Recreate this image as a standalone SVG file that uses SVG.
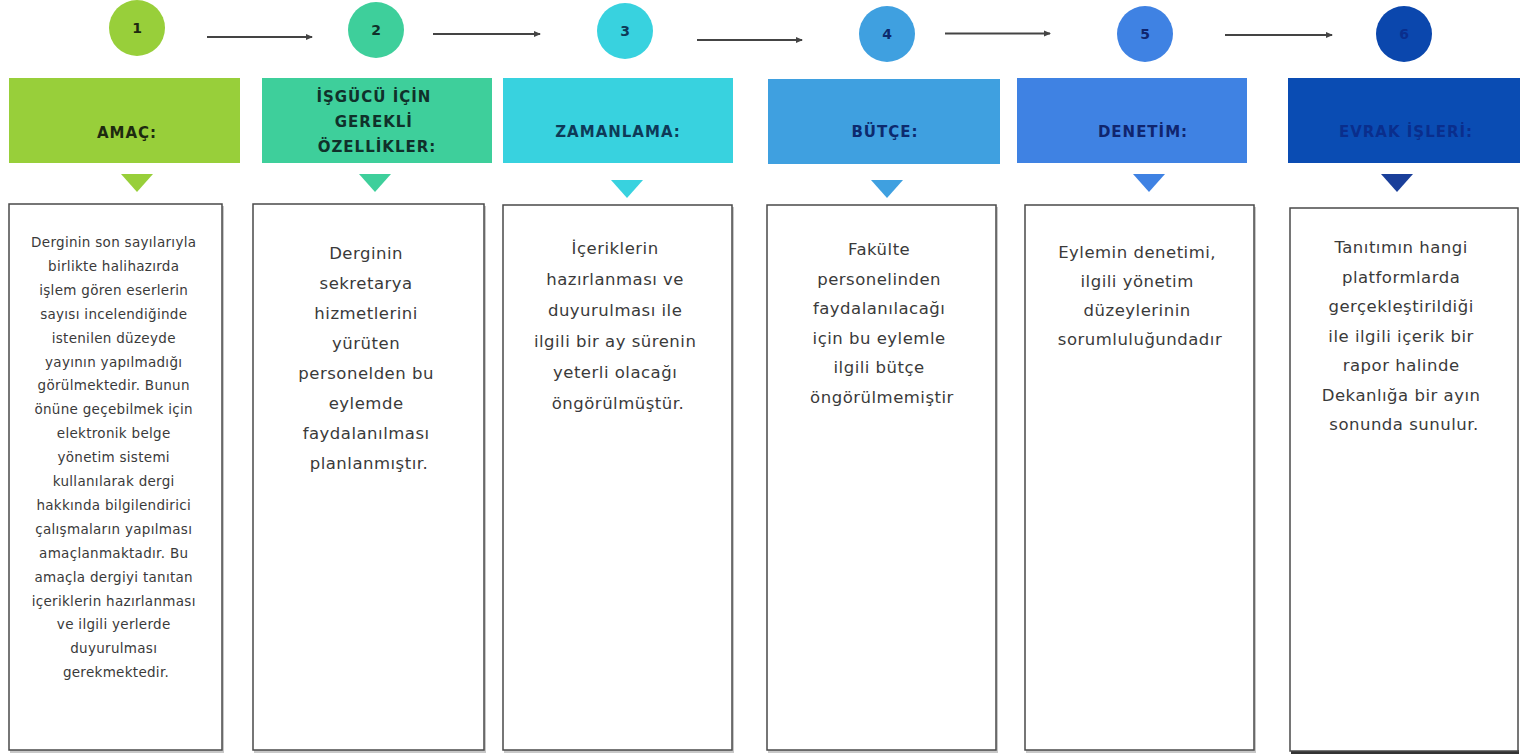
<svg xmlns="http://www.w3.org/2000/svg" width="1522" height="755" viewBox="0 0 1522 755">
<style>
.num{font-family:"DejaVu Sans",sans-serif;font-weight:bold;font-size:14px;text-anchor:middle}
.hd{font-family:"DejaVu Sans",sans-serif;font-weight:bold;font-size:15px;letter-spacing:1px;text-anchor:middle}
.body{font-family:"DejaVu Sans",sans-serif;font-size:16.5px;letter-spacing:0.5px;fill:#3a3a3a;text-anchor:middle}
.small{font-family:"DejaVu Sans",sans-serif;font-size:13.5px;letter-spacing:0.3px;fill:#3a3a3a;text-anchor:middle}
.box{fill:#fff;stroke:#4a4a4a;stroke-width:1.5}
.shadow{fill:#c8c8c8}
.conn{stroke:#444;stroke-width:2;fill:none;marker-end:url(#ah)}
</style>
<defs>
<marker id="ah" markerWidth="8" markerHeight="8" refX="6" refY="4" orient="auto" markerUnits="userSpaceOnUse">
<path d="M0,1 L7,4 L0,7 Z" fill="#444"/>
</marker>
</defs>
<rect width="1522" height="755" fill="#fff"/>

<g id="connectors">
<line class="conn" x1="207" y1="37" x2="312" y2="37"/>
<line class="conn" x1="433" y1="34" x2="540" y2="34"/>
<line class="conn" x1="697" y1="40" x2="802" y2="40"/>
<line class="conn" x1="945" y1="33.5" x2="1050" y2="33.5"/>
<line class="conn" x1="1225" y1="35" x2="1332" y2="35"/>
</g>

<g id="step1">
<circle cx="137" cy="28" r="28" fill="#98cf3a"/>
<text class="num" x="137" y="33" fill="#1e2a10">1</text>
<rect x="9" y="78" width="231" height="85" fill="#98cf3a"/>
<text class="hd" x="127" y="138" fill="#1e2a10">AMAÇ:</text>
<polygon points="121,174 153,174 137,192" fill="#98cf3a"/>
<rect class="shadow" x="10" y="206" width="214" height="547"/>
<rect class="box" x="9" y="204" width="213" height="546"/>
<text class="small">
<tspan x="116" y="247">Derginin son sayılarıyla</tspan>
<tspan x="116" y="270.9">birlikte halihazırda</tspan>
<tspan x="116" y="294.8">işlem gören eserlerin</tspan>
<tspan x="116" y="318.7">sayısı incelendiğinde</tspan>
<tspan x="116" y="342.6">istenilen düzeyde</tspan>
<tspan x="116" y="366.5">yayının yapılmadığı</tspan>
<tspan x="116" y="390.4">görülmektedir. Bunun</tspan>
<tspan x="116" y="414.3">önüne geçebilmek için</tspan>
<tspan x="116" y="438.2">elektronik belge</tspan>
<tspan x="116" y="462.1">yönetim sistemi</tspan>
<tspan x="116" y="486">kullanılarak dergi</tspan>
<tspan x="116" y="509.9">hakkında bilgilendirici</tspan>
<tspan x="116" y="533.8">çalışmaların yapılması</tspan>
<tspan x="116" y="557.7">amaçlanmaktadır. Bu</tspan>
<tspan x="116" y="581.6">amaçla dergiyi tanıtan</tspan>
<tspan x="116" y="605.5">içeriklerin hazırlanması</tspan>
<tspan x="116" y="629.4">ve ilgili yerlerde</tspan>
<tspan x="116" y="653.3">duyurulması</tspan>
<tspan x="116" y="677.2">gerekmektedir.</tspan>
</text>
</g>

<g id="step2">
<circle cx="376" cy="30" r="28" fill="#3ecf9b"/>
<text class="num" x="376" y="35" fill="#10302a">2</text>
<rect x="262" y="78" width="230" height="85" fill="#3ecf9b"/>
<text class="hd" fill="#10302a">
<tspan x="377" y="102">İŞGÜCÜ İÇİN</tspan>
<tspan x="377" y="127">GEREKLİ</tspan>
<tspan x="377" y="152">ÖZELLİKLER:</tspan>
</text>
<polygon points="359,174 391,174 375,192" fill="#3ecf9b"/>
<rect class="shadow" x="254" y="206" width="232" height="547"/>
<rect class="box" x="253" y="204" width="231" height="546"/>
<text class="body">
<tspan x="369" y="259">Derginin</tspan>
<tspan x="369" y="289">sekretarya</tspan>
<tspan x="369" y="319">hizmetlerini</tspan>
<tspan x="369" y="349">yürüten</tspan>
<tspan x="369" y="379">personelden bu</tspan>
<tspan x="369" y="409">eylemde</tspan>
<tspan x="369" y="439">faydalanılması</tspan>
<tspan x="369" y="469">planlanmıştır.</tspan>
</text>
</g>

<g id="step3">
<circle cx="625" cy="31" r="28" fill="#38d2df"/>
<text class="num" x="625" y="36" fill="#0e3a58">3</text>
<rect x="503" y="78" width="230" height="85" fill="#38d2df"/>
<text class="hd" x="618" y="137" fill="#0e3a58">ZAMANLAMA:</text>
<polygon points="611,180 643,180 627,198" fill="#38d2df"/>
<rect class="shadow" x="504" y="207" width="230" height="546"/>
<rect class="box" x="503" y="205" width="229" height="545"/>
<text class="body">
<tspan x="618" y="254">İçeriklerin</tspan>
<tspan x="618" y="285">hazırlanması ve</tspan>
<tspan x="618" y="316">duyurulması ile</tspan>
<tspan x="618" y="347">ilgili bir ay sürenin</tspan>
<tspan x="618" y="378">yeterli olacağı</tspan>
<tspan x="618" y="409">öngörülmüştür.</tspan>
</text>
</g>

<g id="step4">
<circle cx="887" cy="34" r="28" fill="#3fa0e0"/>
<text class="num" x="887" y="39" fill="#0d2a6e">4</text>
<rect x="768" y="79" width="232" height="85" fill="#3fa0e0"/>
<text class="hd" x="885" y="137" fill="#0d2a6e">BÜTÇE:</text>
<polygon points="871,180 903,180 887,198" fill="#3fa0e0"/>
<rect class="shadow" x="768" y="207" width="230" height="546"/>
<rect class="box" x="767" y="205" width="229" height="545"/>
<text class="body">
<tspan x="882" y="255">Fakülte</tspan>
<tspan x="882" y="284.6">personelinden</tspan>
<tspan x="882" y="314.2">faydalanılacağı</tspan>
<tspan x="882" y="343.8">için bu eylemle</tspan>
<tspan x="882" y="373.4">ilgili bütçe</tspan>
<tspan x="882" y="403">öngörülmemiştir</tspan>
</text>
</g>

<g id="step5">
<circle cx="1145" cy="34" r="28" fill="#3f82e3"/>
<text class="num" x="1145" y="39" fill="#10256e">5</text>
<rect x="1017" y="78" width="230" height="85" fill="#3f82e3"/>
<text class="hd" x="1143" y="137" fill="#10256e">DENETİM:</text>
<polygon points="1133,174 1165,174 1149,192" fill="#3f82e3"/>
<rect class="shadow" x="1026" y="207" width="230" height="546"/>
<rect class="box" x="1025" y="205" width="229" height="545"/>
<text class="body">
<tspan x="1140" y="258">Eylemin denetimi,</tspan>
<tspan x="1140" y="287">ilgili yönetim</tspan>
<tspan x="1140" y="316">düzeylerinin</tspan>
<tspan x="1140" y="345">sorumluluğundadır</tspan>
</text>
</g>

<g id="step6">
<circle cx="1404" cy="34" r="28" fill="#0b47ad"/>
<text class="num" x="1404" y="39" fill="#0a2e8c">6</text>
<rect x="1288" y="78" width="232" height="85" fill="#0a4cb3"/>
<text class="hd" x="1406" y="137" fill="#0a2e8c">EVRAK İŞLERİ:</text>
<polygon points="1381,174 1413,174 1397,192" fill="#1a3f9a"/>
<rect x="1291" y="750" width="228" height="4" fill="#333"/>
<rect class="box" x="1290" y="208" width="228" height="543"/>
<text class="body">
<tspan x="1404" y="253">Tanıtımın hangi</tspan>
<tspan x="1404" y="282.5">platformlarda</tspan>
<tspan x="1404" y="312">gerçekleştirildiği</tspan>
<tspan x="1404" y="341.5">ile ilgili içerik bir</tspan>
<tspan x="1404" y="371">rapor halinde</tspan>
<tspan x="1404" y="400.5">Dekanlığa bir ayın</tspan>
<tspan x="1404" y="430">sonunda sunulur.</tspan>
</text>
</g>
</svg>
